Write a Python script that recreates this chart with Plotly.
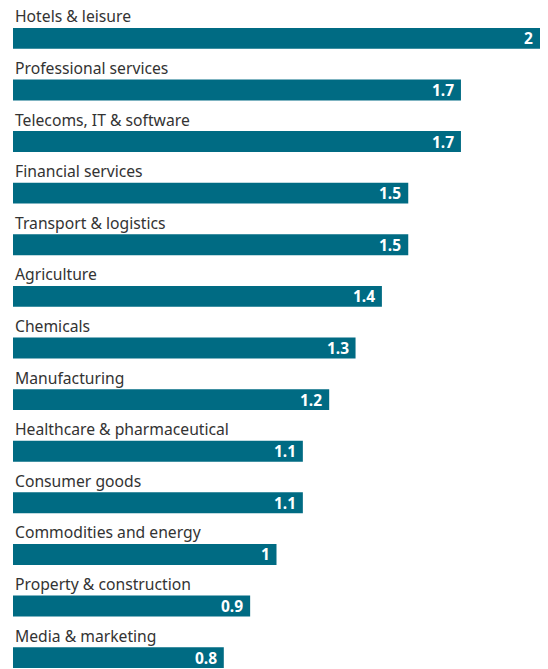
import plotly.graph_objects as go

sectors = [
    "Hotels & leisure",
    "Professional services",
    "Telecoms, IT & software",
    "Financial services",
    "Transport & logistics",
    "Agriculture",
    "Chemicals",
    "Manufacturing",
    "Healthcare & pharmaceutical",
    "Consumer goods",
    "Commodities and energy",
    "Property & construction",
    "Media & marketing",
]
values = [2, 1.7, 1.7, 1.5, 1.5, 1.4, 1.3, 1.2, 1.1, 1.1, 1, 0.9, 0.8]

BAR = "#006b83"
FONT = "Noto Sans"

fig = go.Figure(
    go.Bar(
        x=values,
        y=sectors,
        orientation="h",
        width=0.405,
        marker=dict(color=BAR, line=dict(width=0)),
        hoverinfo="skip",
    )
)

# sector name above each bar
for s in sectors:
    fig.add_annotation(
        x=0, y=s, xref="x", yref="y",
        text=s, showarrow=False,
        xanchor="left", yanchor="bottom",
        xshift=0, yshift=9,
        font=dict(family=FONT, size=15.7, color="#333333"),
    )

# value printed at the end of each bar
for s, v in zip(sectors, values):
    fig.add_annotation(
        x=v, y=s, xref="x", yref="y",
        text=f"{v:g}", showarrow=False,
        xanchor="right", yanchor="middle",
        xshift=-5, yshift=0,
        font=dict(family=FONT, size=15.5, color="white", weight="bold"),
    )

fig.update_layout(
    width=548, height=669,
    margin=dict(l=13, r=8, t=0, b=0),
    paper_bgcolor="white", plot_bgcolor="white",
    showlegend=False,
    xaxis=dict(range=[0, 2], visible=False, fixedrange=True),
    yaxis=dict(
        type="category", categoryorder="array", categoryarray=sectors,
        range=[12.22, -0.743], visible=False, fixedrange=True,
    ),
)

fig.write_html("out.html")
